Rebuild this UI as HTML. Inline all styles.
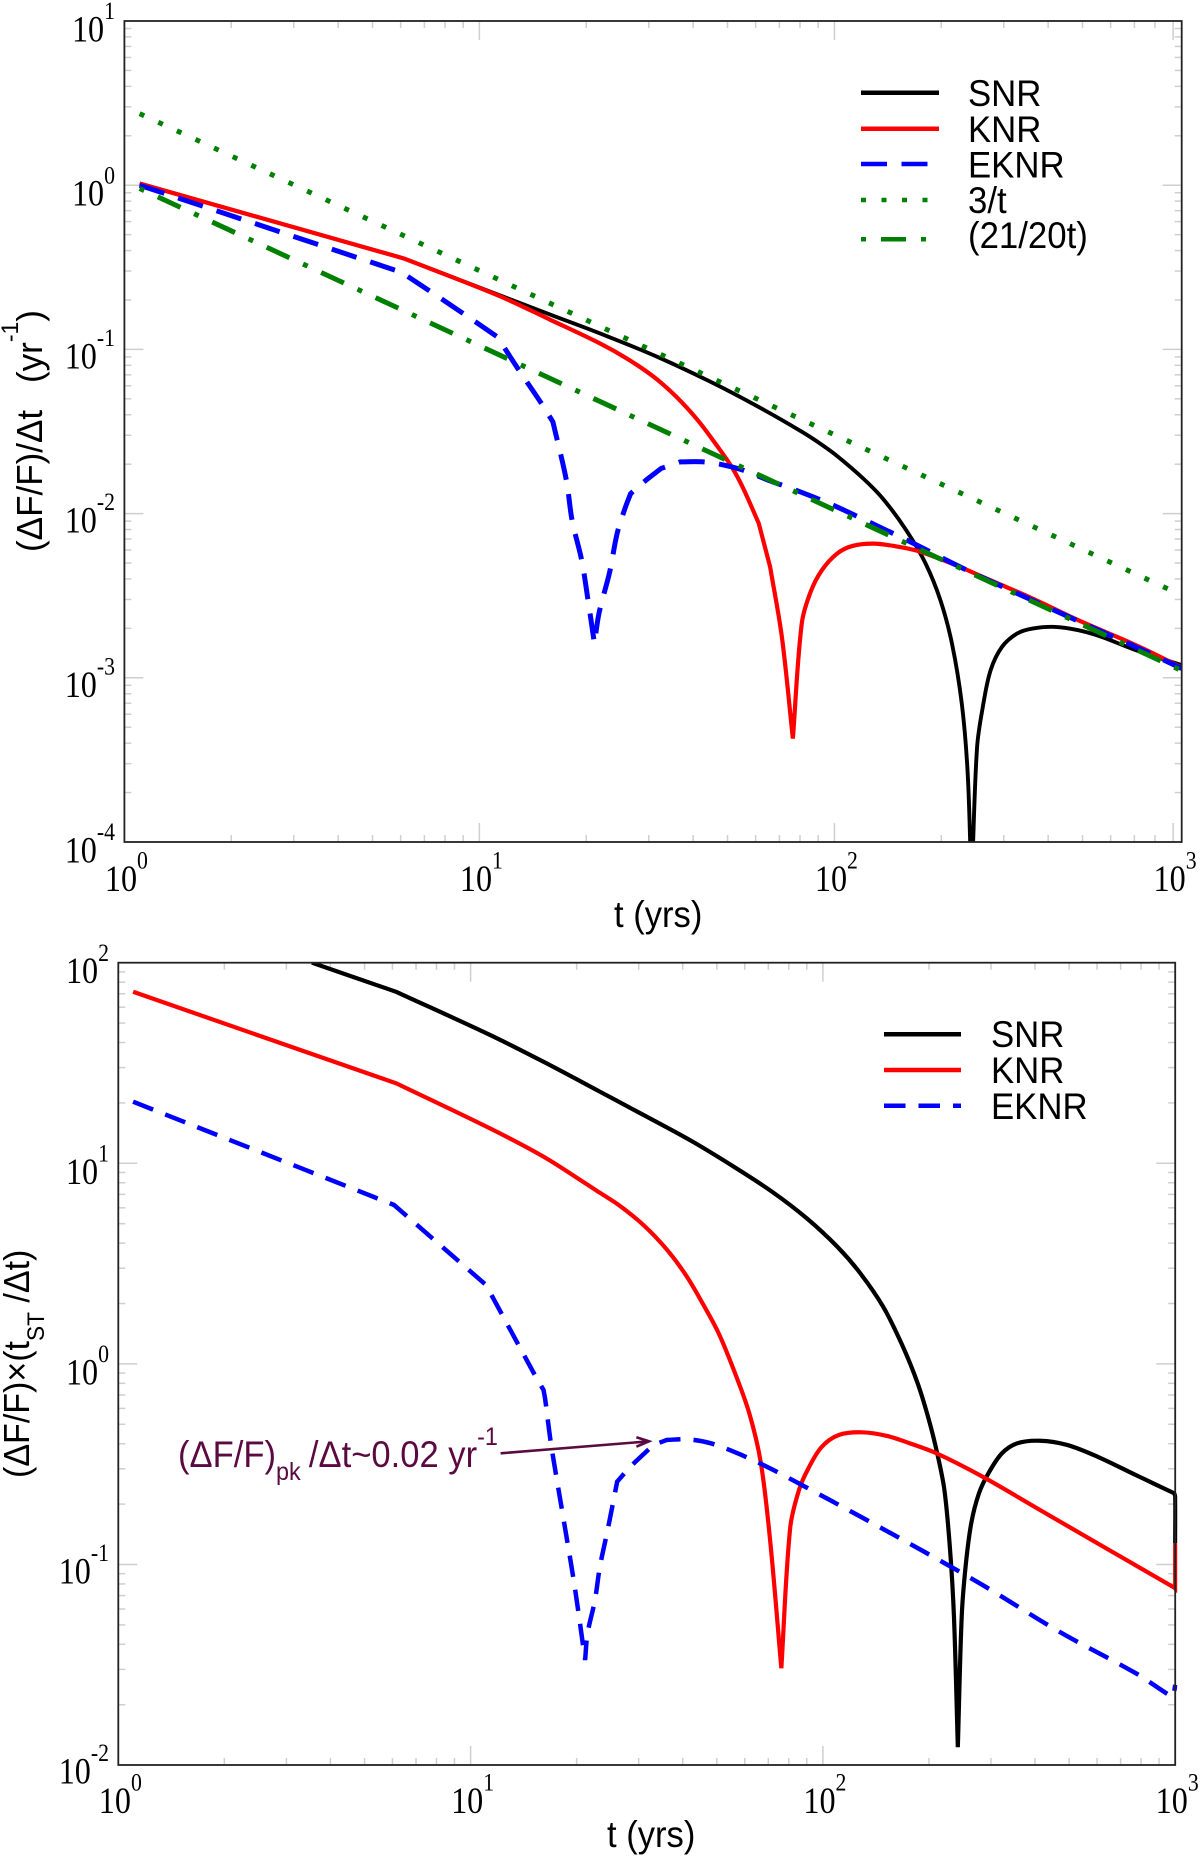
<!DOCTYPE html>
<html lang="en">
<head>
<meta charset="utf-8">
<title>Fractional flux change versus time</title>
<style>
html,body{margin:0;padding:0;background:#fff;}
svg{display:block;}
.serif{font-family:"Liberation Serif",serif;}
.sans{font-family:"Liberation Sans",sans-serif;}
</style>
</head>
<body>
<svg id="figure" xmlns="http://www.w3.org/2000/svg" width="1200" height="1859" viewBox="0 0 1200 1859">
  <rect x="0" y="0" width="1200" height="1859" fill="#fff"/>
  <defs>
    <clipPath id="top-clip"><rect x="124.4" y="21" width="1058.3" height="821"/></clipPath>
    <clipPath id="bottom-clip"><rect x="118.3" y="962.7" width="1059" height="802.3"/></clipPath>
  </defs>

  <g id="top-panel">
    <g id="top-ticks"></g>
    <g id="top-series" clip-path="url(#top-clip)"></g>
    <rect x="124.4" y="21" width="1057.3" height="821" fill="none" stroke="#222" stroke-width="1.8"/>
    <g id="top-labels"></g>
    <text class="sans" font-size="37" transform="translate(614,927) scale(0.935,1)">t (yrs)</text>
    <text class="sans" font-size="36.5" transform="translate(42,552) rotate(-90) scale(0.96,1)">(ΔF/F)/Δt<tspan x="176">(yr</tspan><tspan font-size="24" dy="-24">-1</tspan><tspan dy="24">)</tspan></text>
    <g class="sans" font-size="37">
      <g>
        <line x1="861" x2="939" y1="92.7" y2="92.7" stroke="#000" stroke-width="4.5"/>
        <text transform="translate(968,106) scale(0.94,1)">SNR</text>
      </g>
      <g>
        <line x1="861" x2="939" y1="128.7" y2="128.7" stroke="#ff0000" stroke-width="4.5"/>
        <text transform="translate(968,142) scale(0.94,1)">KNR</text>
      </g>
      <g>
        <line x1="861" x2="939" y1="164" y2="164" stroke="#0000ff" stroke-width="4.5" stroke-dasharray="26 14.5"/>
        <text transform="translate(968,177.5) scale(0.94,1)">EKNR</text>
      </g>
      <g>
        <line x1="861" x2="939" y1="200" y2="200" stroke="#008000" stroke-width="4.5" stroke-dasharray="5 15.5"/>
        <text transform="translate(968,213) scale(0.94,1)">3/t</text>
      </g>
      <g>
        <line x1="861" x2="939" y1="239.3" y2="239.3" stroke="#008000" stroke-width="4.5" stroke-dasharray="5 15 25 15"/>
        <text transform="translate(968,248) scale(0.94,1)">(21/20t)</text>
      </g>
    </g>
  </g>

  <g id="bottom-panel">
    <g id="bottom-ticks"></g>
    <g id="bottom-series" clip-path="url(#bottom-clip)"></g>
    <rect x="118.3" y="962.7" width="1056.9" height="802.3" fill="none" stroke="#222" stroke-width="1.8"/>
    <g id="bottom-labels"></g>
    <text class="sans" font-size="37" transform="translate(607,1847) scale(0.935,1)">t (yrs)</text>
    <text class="sans" font-size="36" transform="translate(29,1478) rotate(-90) scale(0.945,1)">(ΔF/F)×(t<tspan font-size="24" dy="15">ST</tspan><tspan dy="-15"> /Δt)</tspan></text>
    <g class="sans" font-size="37">
      <g>
        <line x1="884" x2="961" y1="1034.3" y2="1034.3" stroke="#000" stroke-width="4.5"/>
        <text transform="translate(991,1047) scale(0.94,1)">SNR</text>
      </g>
      <g>
        <line x1="884" x2="961" y1="1070" y2="1070" stroke="#ff0000" stroke-width="4.5"/>
        <text transform="translate(991,1083) scale(0.94,1)">KNR</text>
      </g>
      <g>
        <line x1="884" x2="961" y1="1105.7" y2="1105.7" stroke="#0000ff" stroke-width="4.5" stroke-dasharray="21.5 13"/>
        <text transform="translate(991,1119) scale(0.94,1)">EKNR</text>
      </g>
    </g>
    <g fill="#5a0a40" stroke="none">
      <text class="sans" font-size="37" transform="translate(178,1467) scale(0.935,1)">(ΔF/F)<tspan font-size="25" dy="13">pk</tspan><tspan x="140" dy="-13">/Δt~0.02 yr</tspan><tspan font-size="25" dy="-22">-1</tspan></text>
      <line x1="500.6" y1="1453.3" x2="648" y2="1441.4" stroke="#5a0a40" stroke-width="2.6"/>
      <polyline points="636.4,1437.3 649,1441.3 636.4,1446.7" fill="none" stroke="#5a0a40" stroke-width="2.6"/>
    </g>
  </g>
</svg>

<script>
// All series values are log10(t in yrs) and log10(value).
const topSnrLogT = [0.043,0.787,1.051,1.202,1.34,1.501,1.663,1.803,1.911,1.96,2.008,2.083,2.137,2.202,2.256,2.299,2.332,2.359,2.375,2.384,2.389,2.402,2.418,2.44,2.472,2.515,2.558,2.623,2.687,2.752,2.849,2.978];
const topSnrLogV = [0.01,-0.446,-0.665,-0.79,-0.903,-1.045,-1.21,-1.37,-1.505,-1.574,-1.65,-1.79,-1.91,-2.10,-2.30,-2.53,-2.80,-3.16,-3.563,-4.1,-4.1,-3.42,-3.178,-2.954,-2.812,-2.73,-2.70,-2.69,-2.71,-2.75,-2.832,-2.923];

const topKnrLogT = [0.043,0.787,1.051,1.202,1.34,1.415,1.491,1.555,1.615,1.668,1.712,1.744,1.787,1.819,1.852,1.883,1.908,1.933,1.965,2.008,2.051,2.11,2.17,2.234,2.342,2.428,2.558,2.687,2.849,2.978];
const topKnrLogV = [0.01,-0.446,-0.67,-0.822,-0.964,-1.055,-1.167,-1.289,-1.431,-1.583,-1.72,-1.85,-2.06,-2.325,-2.751,-3.37,-2.67,-2.477,-2.344,-2.243,-2.197,-2.183,-2.198,-2.227,-2.314,-2.395,-2.517,-2.649,-2.801,-2.937];

const topEknrLogT = [0.043,0.78,0.857,0.954,1.051,1.105,1.175,1.207,1.245,1.261,1.288,1.306,1.324,1.337,1.367,1.388,1.41,1.426,1.469,1.512,1.566,1.631,1.69,1.749,1.814,1.879,1.986,2.116,2.224,2.364,2.526,2.687,2.849,2.978];
const topEknrLogV = [0,-0.53,-0.64,-0.781,-0.924,-1.106,-1.33,-1.441,-1.797,-2.04,-2.283,-2.527,-2.791,-2.606,-2.355,-2.121,-1.969,-1.878,-1.797,-1.725,-1.685,-1.685,-1.705,-1.74,-1.797,-1.847,-1.939,-2.07,-2.183,-2.335,-2.497,-2.655,-2.812,-2.943];

const topDottedLogT = [0.043,2.978];
const topDottedLogV = [0.436,-2.497];

const topDashDotLogT = [0.043,2.978];
const topDashDotLogV = [-0.02,-2.956];

const bottomSnrLogT = [0.5495,0.7885,1.055,1.207,1.367,1.497,1.628,1.747,1.856,1.954,2.041,2.106,2.171,2.225,2.269,2.301,2.325,2.345,2.361,2.372,2.383,2.394,2.405,2.421,2.443,2.47,2.508,2.551,2.616,2.693,2.78,2.888,2.997,3,3];
const bottomSnrLogV = [2,1.855,1.64,1.506,1.357,1.235,1.11,0.983,0.858,0.726,0.584,0.452,0.285,0.094,-0.097,-0.28,-0.45,-0.63,-0.928,-1.26,-1.911,-1.26,-1.011,-0.795,-0.645,-0.545,-0.446,-0.396,-0.383,-0.404,-0.463,-0.554,-0.645,-0.66,-0.894];

const bottomKnrLogT = [0.042,0.7885,1.055,1.207,1.326,1.367,1.422,1.492,1.557,1.612,1.661,1.704,1.747,1.791,1.824,1.851,1.882,1.907,1.932,1.959,1.997,2.046,2.111,2.182,2.247,2.323,2.453,2.616,2.78,2.997,3,3];
const bottomKnrLogV = [1.855,1.399,1.174,1.033,0.9,0.853,0.79,0.69,0.57,0.44,0.294,0.153,-0.03,-0.246,-0.495,-0.894,-1.517,-0.819,-0.629,-0.52,-0.413,-0.354,-0.341,-0.359,-0.396,-0.446,-0.562,-0.728,-0.895,-1.115,-1.12,-0.894];

const bottomEknrLogT = [0.042,0.783,1.044,1.185,1.207,1.212,1.228,1.261,1.294,1.325,1.332,1.353,1.367,1.389,1.416,1.454,1.519,1.557,1.617,1.682,1.769,1.856,2.019,2.236,2.453,2.671,2.888,2.975,2.995,3];
const bottomEknrLogV = [1.307,0.792,0.393,-0.064,-0.13,-0.18,-0.396,-0.745,-1.094,-1.476,-1.343,-1.177,-1.011,-0.828,-0.587,-0.512,-0.404,-0.379,-0.376,-0.396,-0.454,-0.526,-0.678,-0.886,-1.102,-1.335,-1.542,-1.642,-1.66,-1.6];

const topXMajorExponents = [0,1,2,2.954];
const topXTickLabels = ['0','1','2','3'];
const topYMajorExponents = [1,0,-1,-2,-3,-4];
const topYTickLabels = ['1','0','-1','-2','-3','-4'];

const bottomXMajorExponents = [0,1,2,3];
const bottomXTickLabels = ['0','1','2','3'];
const bottomYMajorExponents = [2,1,0,-1,-2];
const bottomYTickLabels = ['2','1','0','-1','-2'];

const SVG_NS = 'http://www.w3.org/2000/svg';

const topPanel = {key:'top', left:124.4, right:1181.7, top:21, bottom:842, xDecade:355, yDecade:164.2, yMaxExp:1, xMaxExp:2.978, yMinExp:-4};
const bottomPanel = {key:'bottom', left:118.3, right:1175.2, top:962.7, bottom:1765, xDecade:352.3, yDecade:200.6, yMaxExp:2, xMaxExp:3, yMinExp:-2};

function xAxis(panel, logT) {
  return panel.left + logT * panel.xDecade;
}
function yAxis(panel, logV) {
  return panel.top + (panel.yMaxExp - logV) * panel.yDecade;
}

function tickLine(group, name, x1, y1, x2, y2) {
  const line = document.createElementNS(SVG_NS, 'line');
  
  
  line.setAttribute('x1', x1);
  line.setAttribute('y1', y1);
  line.setAttribute('x2', x2);
  line.setAttribute('y2', y2);
  line.setAttribute('stroke', '#cfcfcf');
  line.setAttribute('stroke-width', '1.5');
  group.appendChild(line);
}

function drawTicks(panel, xMajors, yMajors) {
  const group = document.getElementById(panel.key + '-ticks');
  const longLen = 19;
  const shortLen = 7;
  for (let d = 0; d <= 3; d++) {
    for (let m = 1; m <= 9; m++) {
      const e = d + Math.log10(m);
      if (e > panel.xMaxExp + 1e-6) continue;
      const isMajor = xMajors.some(function (v) { return Math.abs(v - e) < 0.002; });
      const len = isMajor ? longLen : shortLen;
      const x = xAxis(panel, e);
      if (e > 0) {
        tickLine(group, 'x-tick-bottom', x, panel.bottom, x, panel.bottom - len);
        tickLine(group, 'x-tick-top', x, panel.top, x, panel.top + len);
      }
    }
  }
  for (let d = panel.yMinExp; d < panel.yMaxExp; d++) {
    for (let m = 1; m <= 9; m++) {
      const e = d + Math.log10(m);
      const isMajor = yMajors.indexOf(e) !== -1;
      const len = isMajor ? longLen : shortLen;
      const y = yAxis(panel, e);
      if (e > panel.yMinExp) {
        tickLine(group, 'y-tick-left', panel.left, y, panel.left + len, y);
        tickLine(group, 'y-tick-right', panel.right, y, panel.right - len, y);
      }
    }
  }
}

function tickLabel(group, name, x, y, anchor, exponent) {
  const text = document.createElementNS(SVG_NS, 'text');
  
  
  text.setAttribute('class', 'serif');
  text.setAttribute('transform', 'translate(' + x + ',' + y + ') scale(0.87,1)');
  text.setAttribute('font-size', '37');
  text.setAttribute('text-anchor', anchor);
  text.appendChild(document.createTextNode('10'));
  const sup = document.createElementNS(SVG_NS, 'tspan');
  sup.setAttribute('font-size', '25');
  sup.setAttribute('dy', '-22.4');
  sup.textContent = exponent;
  text.appendChild(sup);
  group.appendChild(text);
}

function drawLabels(panel, xMajors, xLabels, yMajors, yLabels, yRight, xBaseline) {
  const group = document.getElementById(panel.key + '-labels');
  xMajors.forEach(function (e, i) {
    tickLabel(group, 'x-tick-label', xAxis(panel, e) + 2, xBaseline, 'middle', xLabels[i]);
  });
  yMajors.forEach(function (e, i) {
    const offset = yLabels[i].charAt(0) === '-' && e !== panel.yMinExp ? 19 : (e === panel.yMinExp && panel.key === 'bottom' ? 18.5 : 20.5);
    tickLabel(group, 'y-tick-label', yRight, yAxis(panel, e) + offset, 'end', yLabels[i]);
  });
}

// Builds a smooth path through the points; a vertex stays sharp when the curve turns
// by more than cornerDegrees or when it is listed as a knee of the series.
function smoothPath(points, logT, cornerDegrees, kneeLogT) {
  const cornerLimit = cornerDegrees * Math.PI / 180;
  const n = points.length;
  const tangents = [];
  for (let i = 0; i < n; i++) {
    if (i === 0 || i === n - 1 || kneeLogT.indexOf(logT[i]) !== -1) { tangents.push(null); continue; }
    const ax = points[i][0] - points[i - 1][0];
    const ay = points[i][1] - points[i - 1][1];
    const bx = points[i + 1][0] - points[i][0];
    const by = points[i + 1][1] - points[i][1];
    const turn = Math.abs(Math.atan2(ax * by - ay * bx, ax * bx + ay * by));
    if (turn > cornerLimit) { tangents.push(null); continue; }
    const cx = points[i + 1][0] - points[i - 1][0];
    const cy = points[i + 1][1] - points[i - 1][1];
    const len = Math.hypot(cx, cy) || 1;
    tangents.push([cx / len, cy / len]);
  }
  let d = 'M' + points[0][0].toFixed(2) + ' ' + points[0][1].toFixed(2);
  for (let i = 0; i < n - 1; i++) {
    const p = points[i];
    const q = points[i + 1];
    const seg = Math.hypot(q[0] - p[0], q[1] - p[1]) / 3;
    const ux = (q[0] - p[0]) / (3 * seg || 1);
    const uy = (q[1] - p[1]) / (3 * seg || 1);
    const t0 = tangents[i] || [ux, uy];
    const t1 = tangents[i + 1] || [ux, uy];
    d += ' C' + (p[0] + t0[0] * seg).toFixed(2) + ' ' + (p[1] + t0[1] * seg).toFixed(2) +
         ' ' + (q[0] - t1[0] * seg).toFixed(2) + ' ' + (q[1] - t1[1] * seg).toFixed(2) +
         ' ' + q[0].toFixed(2) + ' ' + q[1].toFixed(2);
  }
  return d;
}

function drawSeries(panel, name, logT, logV, color, width, dash, cornerDegrees, kneeLogT) {
  const group = document.getElementById(panel.key + '-series');
  const points = [];
  for (let i = 0; i < logT.length; i++) {
    points.push([xAxis(panel, logT[i]), yAxis(panel, logV[i])]);
  }
  const line = document.createElementNS(SVG_NS, 'path');
  
  
  line.setAttribute('d', smoothPath(points, logT, cornerDegrees, kneeLogT));
  line.setAttribute('fill', 'none');
  line.setAttribute('stroke', color);
  line.setAttribute('stroke-width', width);
  line.setAttribute('stroke-linejoin', 'miter');
  line.setAttribute('stroke-miterlimit', '4');
  if (dash) {
    line.setAttribute('stroke-dasharray', dash);
  }
  group.appendChild(line);
}

drawTicks(topPanel, topXMajorExponents, topYMajorExponents);
drawLabels(topPanel, topXMajorExponents, topXTickLabels, topYMajorExponents, topYTickLabels, 115, 891);
drawSeries(topPanel, 'top-series-snr', topSnrLogT, topSnrLogV, '#000000', 3.9, null, 30, [0.787]);
drawSeries(topPanel, 'top-series-knr', topKnrLogT, topKnrLogV, '#ff0000', 4.2, null, 30, [0.787,1.787,1.819]);
drawSeries(topPanel, 'top-series-eknr', topEknrLogT, topEknrLogV, '#0000ff', 5, '26 14.5', 12, [0.78,1.051,1.207,1.426]);
drawSeries(topPanel, 'top-series-3-over-t', topDottedLogT, topDottedLogV, '#008000', 5, '5 15.5', 30, []);
drawSeries(topPanel, 'top-series-21-over-20t', topDashDotLogT, topDashDotLogV, '#008000', 5, '5 15 25 15', 30, []);

drawTicks(bottomPanel, bottomXMajorExponents, bottomYMajorExponents);
drawLabels(bottomPanel, bottomXMajorExponents, bottomXTickLabels, bottomYMajorExponents, bottomYTickLabels, 109, 1813);
drawSeries(bottomPanel, 'bottom-series-snr', bottomSnrLogT, bottomSnrLogV, '#000000', 4.2, null, 30, [0.7885]);
drawSeries(bottomPanel, 'bottom-series-knr', bottomKnrLogT, bottomKnrLogV, '#ff0000', 4.2, null, 30, [0.7885]);
drawSeries(bottomPanel, 'bottom-series-eknr', bottomEknrLogT, bottomEknrLogV, '#0000ff', 4.5, '21.5 13', 12, [0.783,1.044,1.207,1.416]);
</script>
</body>
</html>
